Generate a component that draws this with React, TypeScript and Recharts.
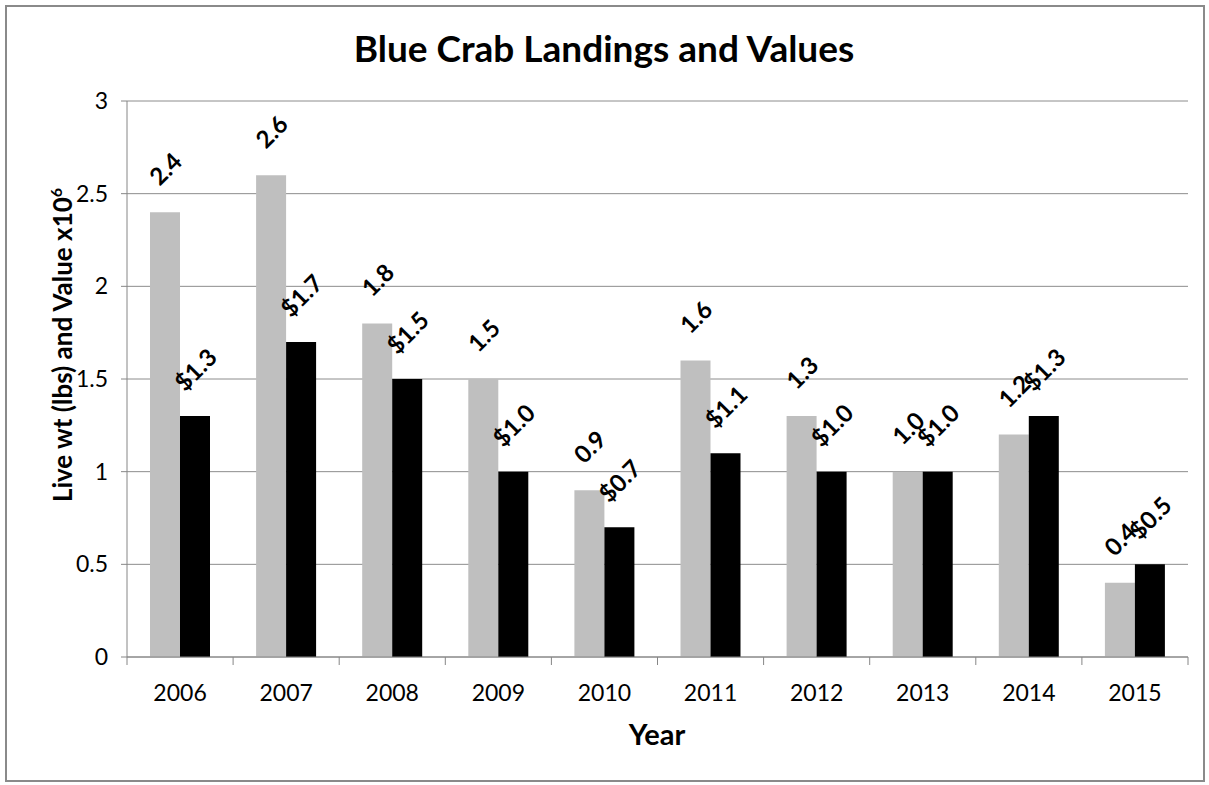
import React from "react"
import { Bar, BarChart, CartesianGrid, LabelList, XAxis, YAxis } from "recharts"

// Blue crab landings (live wt, million lbs) and value (million $)
const years = ["2006", "2007", "2008", "2009", "2010", "2011", "2012", "2013", "2014", "2015"]
const landings = [2.4, 2.6, 1.8, 1.5, 0.9, 1.6, 1.3, 1.0, 1.2, 0.4]
const values = [1.3, 1.7, 1.5, 1.0, 0.7, 1.1, 1.0, 1.0, 1.3, 0.5]
const yTicks = [0, 0.5, 1, 1.5, 2, 2.5, 3]

const data = years.map((year, i) => ({ year, landings: landings[i], value: values[i] }))

const W = 1209
const H = 785
const plotLeft = 127
const plotRight = 1188
const plotTop = 101
const plotBottom = 657
const band = (plotRight - plotLeft) / years.length
const font = "Lato, 'Open Sans', sans-serif"
const axisGrey = "#868686"

const makeLabel = (prefix: string) => (props: any) => {
  const { x, y, width, value } = props
  const text = `${prefix}${Number(value).toFixed(1)}`
  const cx = x + width / 2
  const cy = y - (35 + text.length * 3)
  return (
    <text
      x={cx}
      y={cy}
      transform={`rotate(-45, ${cx}, ${cy})`}
      textAnchor="middle"
      dominantBaseline="central"
      fontFamily={font}
      fontWeight="bold"
      fontSize={24}
      fill="#000"
    >
      {text}
    </text>
  )
}

const XTick = (props: any) => {
  const { x, payload, index } = props
  return (
    <g>
      <line x1={x - band / 2} x2={x - band / 2} y1={plotBottom} y2={plotBottom + 8} stroke={axisGrey} />
      {index === years.length - 1 && (
        <line x1={x + band / 2} x2={x + band / 2} y1={plotBottom} y2={plotBottom + 8} stroke={axisGrey} />
      )}
      <text x={x} y={plotBottom + 44} textAnchor="middle" fontFamily={font} fontSize={23} fill="#000">
        {payload.value}
      </text>
    </g>
  )
}

export default function App() {
  return (
    <div style={{ position: "absolute", left: 0, top: 0, width: W, height: H, background: "#fff" }}>
      <div
        style={{
          position: "absolute",
          left: 5,
          top: 5,
          width: 1196,
          height: 773,
          border: "2px solid #8a8a8a",
        }}
      />
      <div style={{ position: "absolute", left: 0, top: 0 }}>
        <BarChart
          width={W}
          height={H}
          data={data}
          margin={{ top: plotTop, bottom: H - plotBottom - 30, left: plotLeft - 60, right: W - plotRight }}
          barSize={30}
          barGap={0}
        >
          <CartesianGrid vertical={false} stroke="#8c8c8c" />
          <XAxis
            dataKey="year"
            height={30}
            tickLine={false}
            axisLine={{ stroke: axisGrey }}
            tick={<XTick />}
            interval={0}
          />
          <YAxis
            width={60}
            domain={[0, 3]}
            ticks={yTicks}
            interval={0}
            tickSize={6}
            tickLine={{ stroke: axisGrey }}
            axisLine={{ stroke: axisGrey }}
            tick={{ fontFamily: font, fontSize: 23, fill: "#000" }}
            tickMargin={13}
          />
          <Bar dataKey="landings" fill="#bfbfbf" isAnimationActive={false}>
            <LabelList dataKey="landings" content={makeLabel("")} />
          </Bar>
          <Bar dataKey="value" fill="#000000" isAnimationActive={false}>
            <LabelList dataKey="value" content={makeLabel("$")} />
          </Bar>
        </BarChart>
      </div>
      <svg
        width={W}
        height={H}
        style={{ position: "absolute", left: 0, top: 0, pointerEvents: "none" }}
      >
        <text x={604} y={62} textAnchor="middle" fontFamily={font} fontWeight="bold" fontSize={37} fill="#000">
          Blue Crab Landings and Values
        </text>
        <text x={657} y={745} textAnchor="middle" fontFamily={font} fontWeight="bold" fontSize={29} fill="#000">
          Year
        </text>
        <text
          x={72}
          y={345}
          transform="rotate(-90, 72, 345)"
          textAnchor="middle"
          fontFamily={font}
          fontWeight="bold"
          fontSize={26}
          fill="#000"
        >
          Live wt (lbs) and Value x10
          <tspan fontSize={16} dy={-10}>
            6
          </tspan>
        </text>
      </svg>
    </div>
  )
}
